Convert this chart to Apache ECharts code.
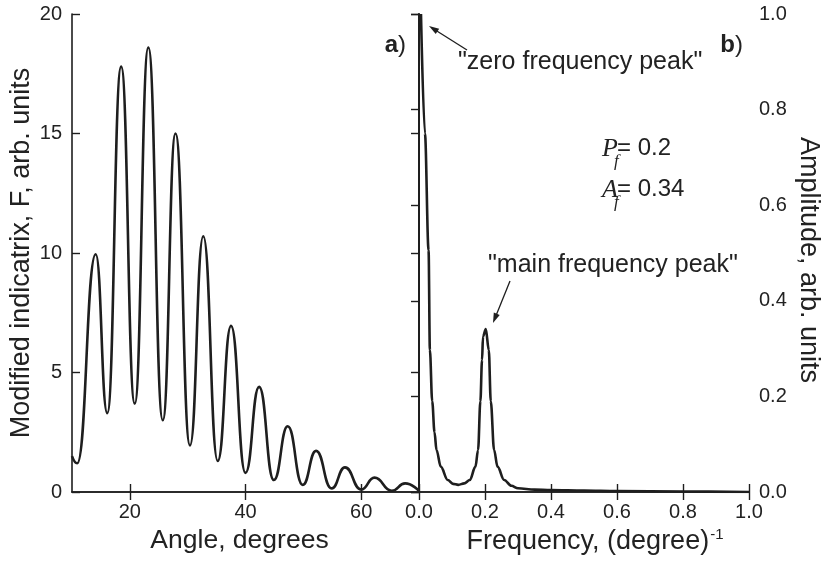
<!DOCTYPE html>
<html>
<head>
<meta charset="utf-8">
<script src="https://cdn.jsdelivr.net/npm/echarts@6/dist/echarts.min.js"></script>
<style>
html,body{margin:0;padding:0;background:#fff;}
#main{width:823px;height:566px;}
</style>
</head>
<body>
<div id="main"></div>
<script>
// Panel a): modified indicatrix vs angle
const angle = [10, 10.9, 14.1, 16.1, 18.5, 20.85, 23.2, 25.7, 27.9, 30.4, 32.7, 35.2, 37.5, 40.0, 42.35, 44.9, 47.3, 49.9, 52.2, 54.9, 57.2, 60.0, 62.3, 65.3, 67.6, 70];
const indicatrix = [1.5, 1.2, 9.95, 3.3, 17.8, 3.7, 18.6, 3.0, 15.0, 1.95, 10.7, 1.3, 6.95, 0.8, 4.4, 0.5, 2.75, 0.3, 1.72, 0.15, 1.03, 0.1, 0.6, 0.05, 0.36, 0.05];
const angleTicks = [20, 40, 60];

// Panel b): amplitude spectrum vs frequency
const freq = [0.006, 0.018, 0.029, 0.033, 0.040, 0.047, 0.053, 0.066, 0.087, 0.103, 0.119, 0.137, 0.154, 0.171, 0.179, 0.186, 0.191, 0.194, 0.2024, 0.2115, 0.2175, 0.2275, 0.238, 0.258, 0.28, 0.30, 0.35, 0.4, 0.5, 0.6, 0.8, 1.0];
const amplitude = [1.0, 0.75, 0.506, 0.297, 0.19, 0.125, 0.088, 0.053, 0.025, 0.017, 0.015, 0.018, 0.025, 0.053, 0.088, 0.19, 0.276, 0.325, 0.341, 0.297, 0.19, 0.088, 0.053, 0.025, 0.013, 0.0077, 0.005, 0.004, 0.003, 0.002, 0.001, 0.0];
const freqTicks = [0, 0.2, 0.4, 0.6, 0.8, 1.0];

const SANS = '"Liberation Sans", Arial, Helvetica, sans-serif';
const SERIF = '"Liberation Serif", "Times New Roman", serif';
const INK = '#1e1e1e';
const TXT = '#222';

const chart = echarts.init(document.getElementById('main'), null, {renderer: 'canvas'});

const lineAx = {show: true, lineStyle: {color: INK, width: 1.6}};
const tickIn = (vals) => ({show: true, inside: true, length: 8, lineStyle: {color: INK, width: 1.4}, customValues: vals});
const lblStyle = {fontFamily: SANS, fontSize: 20, color: TXT};

function arrow(tx, ty, hx, hy) {
  const dx = hx - tx, dy = hy - ty, L = Math.hypot(dx, dy);
  const ux = dx / L, uy = dy / L, px = -uy, py = ux;
  const hl = 10, hw = 3.2;
  const bx = hx - ux * hl, by = hy - uy * hl;
  return [
    {type: 'line', shape: {x1: tx, y1: ty, x2: hx - ux * 6, y2: hy - uy * 6}, style: {stroke: INK, lineWidth: 1.3}, silent: true},
    {type: 'polygon', shape: {points: [[hx, hy], [bx + px * hw, by + py * hw], [bx - px * hw, by - py * hw]]}, style: {fill: INK}, silent: true}
  ];
}

const option = {
  backgroundColor: '#fff',
  animation: false,
  grid: [
    {left: 72, top: 14, width: 347, height: 478},
    {left: 419, top: 14, width: 331, height: 478}
  ],
  xAxis: [
    {gridIndex: 0, type: 'value', min: 10, max: 70, position: 'bottom',
     axisLine: lineAx, axisTick: tickIn(angleTicks), splitLine: {show: false},
     axisLabel: Object.assign({margin: 10, customValues: angleTicks}, lblStyle),
     name: 'Angle, degrees', nameLocation: 'middle', nameGap: 34,
     nameTextStyle: {fontFamily: SANS, fontSize: 26.5, color: TXT, padding: [0, 12, 0, 0]}},
    {gridIndex: 0, type: 'value', min: 10, max: 70, position: 'top',
     axisLine: lineAx, axisTick: tickIn(angleTicks), axisLabel: {show: false}, splitLine: {show: false}},
    {gridIndex: 1, type: 'value', min: 0, max: 1, interval: 0.2, position: 'bottom',
     axisLine: lineAx, axisTick: tickIn(freqTicks), splitLine: {show: false},
     axisLabel: Object.assign({margin: 10, customValues: freqTicks, formatter: v => v.toFixed(1)}, lblStyle),
     name: '{a|Frequency, (degree)}{s|-1}', nameLocation: 'middle', nameGap: 34,
     nameTextStyle: {padding: [0, 0, 0, 22], rich: {
       a: {fontFamily: SANS, fontSize: 27, color: TXT, lineHeight: 30},
       s: {fontFamily: SANS, fontSize: 15, color: TXT, verticalAlign: 'top', lineHeight: 16, padding: [0, 0, 10, 1]}
     }}},
    {gridIndex: 1, type: 'value', min: 0, max: 1, interval: 0.2, position: 'top',
     axisLine: lineAx, axisTick: tickIn(freqTicks), axisLabel: {show: false}, splitLine: {show: false}}
  ],
  yAxis: [
    {gridIndex: 0, type: 'value', min: 0, max: 20, interval: 5, position: 'left',
     axisLine: lineAx, axisTick: {show: true, inside: true, length: 8, lineStyle: {color: INK, width: 1.4}},
     splitLine: {show: false}, axisLabel: Object.assign({margin: 10}, lblStyle),
     name: 'Modified indicatrix, F, arb. units', nameLocation: 'middle', nameGap: 37,
     nameTextStyle: {fontFamily: SANS, fontSize: 27, color: TXT}},
    {gridIndex: 0, type: 'value', min: 0, max: 20, interval: 5, position: 'right',
     axisLine: lineAx, axisTick: {show: true, inside: true, length: 8, lineStyle: {color: INK, width: 1.4}},
     splitLine: {show: false}, axisLabel: {show: false}},
    {gridIndex: 1, type: 'value', min: 0, max: 1, interval: 0.2, position: 'right',
     axisLine: lineAx, axisTick: {show: true, inside: true, length: 8, lineStyle: {color: INK, width: 1.4}},
     splitLine: {show: false}, axisLabel: Object.assign({margin: 10, formatter: v => v.toFixed(1)}, lblStyle),
     name: 'Amplitude, arb. units', nameLocation: 'middle', nameGap: 46, nameRotate: -90,
     nameTextStyle: {fontFamily: SANS, fontSize: 27, color: TXT, padding: [0, 0, 0, 14]}},
    {gridIndex: 1, type: 'value', min: 0, max: 1, interval: 0.2, position: 'left',
     axisLine: lineAx, axisTick: {show: false}, splitLine: {show: false}, axisLabel: {show: false}}
  ],
  series: [
    {type: 'line', xAxisIndex: 0, yAxisIndex: 0, showSymbol: false, smooth: 0.5, smoothMonotone: 'x',
     data: angle.map((a, i) => [a, indicatrix[i]]),
     lineStyle: {color: INK, width: 2.6}, clip: true},
    {type: 'line', xAxisIndex: 2, yAxisIndex: 2, showSymbol: false, smooth: 0.35, smoothMonotone: 'x',
     data: freq.map((f, i) => [f, amplitude[i]]),
     lineStyle: {color: INK, width: 2.6}, clip: true}
  ],
  graphic: [
    {type: 'text', x: 406, y: 45, silent: true,
     style: {text: '{b|a}{n|)}', align: 'right', verticalAlign: 'middle',
       rich: {b: {fontFamily: SANS, fontSize: 24, fontWeight: 'bold', fill: TXT}, n: {fontFamily: SANS, fontSize: 24, fill: TXT}}}},
    {type: 'text', x: 743, y: 45, silent: true,
     style: {text: '{b|b}{n|)}', align: 'right', verticalAlign: 'middle',
       rich: {b: {fontFamily: SANS, fontSize: 24, fontWeight: 'bold', fill: TXT}, n: {fontFamily: SANS, fontSize: 24, fill: TXT}}}},
    {type: 'text', x: 458, y: 62, silent: true,
     style: {text: '"zero frequency peak"', font: '25px ' + SANS, fill: TXT, align: 'left', verticalAlign: 'middle'}},
    {type: 'text', x: 488, y: 265, silent: true,
     style: {text: '"main frequency peak"', font: '25px ' + SANS, fill: TXT, align: 'left', verticalAlign: 'middle'}},
    {type: 'text', x: 602, y: 149, silent: true,
     style: {text: 'P', font: 'italic 26px ' + SERIF, fill: TXT, align: 'left', verticalAlign: 'middle'}},
    {type: 'text', x: 614, y: 162, silent: true,
     style: {text: 'f', font: 'italic 17px ' + SERIF, fill: TXT, align: 'left', verticalAlign: 'middle'}},
    {type: 'text', x: 617, y: 148, silent: true,
     style: {text: '= 0.2', font: '24px ' + SANS, fill: TXT, align: 'left', verticalAlign: 'middle'}},
    {type: 'text', x: 602, y: 190, silent: true,
     style: {text: 'A', font: 'italic 26px ' + SERIF, fill: TXT, align: 'left', verticalAlign: 'middle'}},
    {type: 'text', x: 614, y: 203, silent: true,
     style: {text: 'f', font: 'italic 17px ' + SERIF, fill: TXT, align: 'left', verticalAlign: 'middle'}},
    {type: 'text', x: 617, y: 189, silent: true,
     style: {text: '= 0.34', font: '24px ' + SANS, fill: TXT, align: 'left', verticalAlign: 'middle'}}
  ].concat(arrow(467, 50, 429, 26), arrow(510, 281, 493, 323))
};

chart.setOption(option);
</script>
</body>
</html>
